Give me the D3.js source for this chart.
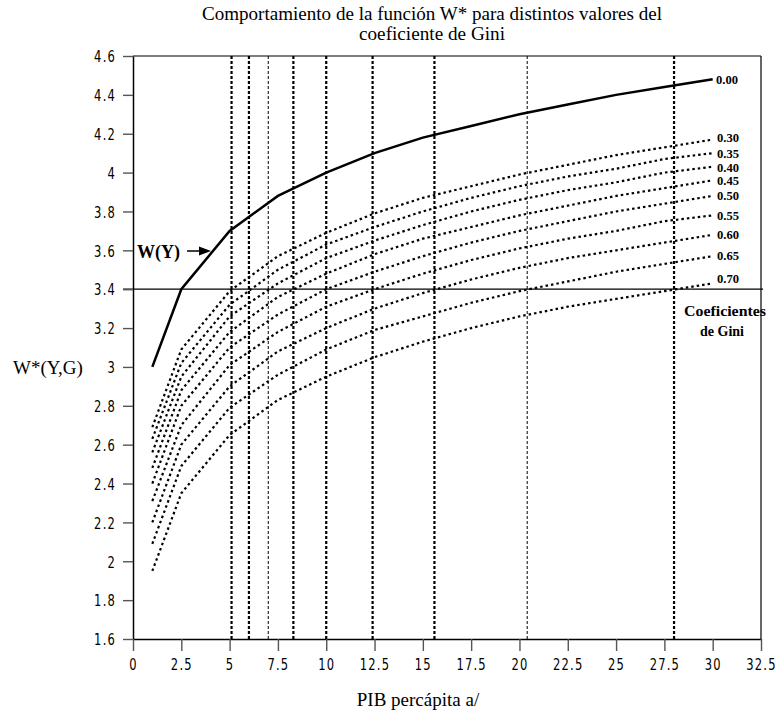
<!DOCTYPE html>
<html>
<head>
<meta charset="utf-8">
<script src="https://cdn.jsdelivr.net/npm/d3@7"></script>
<style>
  body { margin: 0; background: #fff; }
  svg { display: block; }
  .tick text { font-family: "Liberation Sans Narrow", "DejaVu Sans Condensed", sans-serif; font-size: 16px; letter-spacing: 1.5px; fill: #000; }
  .serif { font-family: "Liberation Serif", "Times New Roman", serif; }
</style>
</head>
<body>
<svg id="chart" width="776" height="717"></svg>
<script>
// PIB per capita where the curves were evaluated
var gdp = [1, 2.5, 5, 7.5, 10, 12.5, 15, 17.5, 20, 22.5, 25, 27.5, 30];

// W(Y), Gini = 0
var wY = [3.00, 3.40, 3.70, 3.88, 4.00, 4.10, 4.18, 4.24, 4.30, 4.35, 4.40, 4.44, 4.48];

// W*(Y,G) for each Gini coefficient
var g30 = [2.69, 3.09, 3.39, 3.57, 3.69, 3.79, 3.87, 3.93, 3.99, 4.04, 4.09, 4.13, 4.17];
var g35 = [2.63, 3.02, 3.32, 3.50, 3.63, 3.72, 3.80, 3.87, 3.93, 3.98, 4.02, 4.07, 4.10];
var g40 = [2.56, 2.95, 3.26, 3.43, 3.56, 3.65, 3.73, 3.80, 3.86, 3.91, 3.95, 4.00, 4.03];
var g45 = [2.48, 2.88, 3.18, 3.36, 3.48, 3.58, 3.66, 3.72, 3.78, 3.83, 3.88, 3.92, 3.96];
var g50 = [2.40, 2.80, 3.10, 3.27, 3.40, 3.49, 3.57, 3.64, 3.70, 3.75, 3.80, 3.84, 3.88];
var g55 = [2.31, 2.70, 3.01, 3.18, 3.31, 3.40, 3.48, 3.55, 3.61, 3.66, 3.70, 3.75, 3.78];
var g60 = [2.20, 2.60, 2.90, 3.08, 3.20, 3.30, 3.38, 3.45, 3.51, 3.56, 3.60, 3.64, 3.68];
var g65 = [2.09, 2.49, 2.79, 2.96, 3.09, 3.19, 3.26, 3.33, 3.39, 3.44, 3.49, 3.53, 3.57];
var g70 = [1.95, 2.35, 2.65, 2.83, 2.95, 3.05, 3.13, 3.20, 3.26, 3.31, 3.35, 3.39, 3.43];

var giniSeries = [g30, g35, g40, g45, g50, g55, g60, g65, g70];
var giniLabels = ["0.30", "0.35", "0.40", "0.45", "0.50", "0.55", "0.60", "0.65", "0.70"];

// reference level and the GDP where each Gini curve reaches it
var refLevel = 3.4;
var crossGdp = [5.1, 6.0, 7.0, 8.3, 10.0, 12.4, 15.6, 20.4, 28.0];

var xTicks = [0, 2.5, 5, 7.5, 10, 12.5, 15, 17.5, 20, 22.5, 25, 27.5, 30, 32.5];
var yTicks = [1.6, 1.8, 2, 2.2, 2.4, 2.6, 2.8, 3, 3.2, 3.4, 3.6, 3.8, 4, 4.2, 4.4, 4.6];

var svg = d3.select("#chart");

var x = d3.scaleLinear().domain([0, 32.5]).range([133, 761]);
var y = d3.scaleLinear().domain([1.6, 4.6]).range([639, 56]);

var line = d3.line()
  .x(function(d) { return x(d[0]); })
  .y(function(d) { return y(d[1]); });

// title
var title = svg.append("text").attr("class", "serif")
  .attr("text-anchor", "middle").style("font-size", "19px");
title.append("tspan").attr("x", 432).attr("y", 20)
  .attr("textLength", 460).attr("lengthAdjust", "spacingAndGlyphs")
  .text("Comportamiento de la función W* para distintos valores del");
title.append("tspan").attr("x", 432).attr("y", 40)
  .attr("textLength", 146).attr("lengthAdjust", "spacingAndGlyphs")
  .text("coeficiente de Gini");

// frame top / right
svg.append("line").attr("x1", x(0)).attr("x2", x(32.5)).attr("y1", y(4.6)).attr("y2", y(4.6))
  .attr("stroke", "#000").attr("stroke-width", 1.2);
svg.append("line").attr("x1", x(32.5)).attr("x2", x(32.5)).attr("y1", y(4.6)).attr("y2", y(1.6))
  .attr("stroke", "#000").attr("stroke-width", 1.2);

// vertical markers where each curve reaches the reference level
svg.selectAll(".vmark")
  .data(crossGdp)
  .enter().append("line")
  .attr("class", "vmark")
  .attr("x1", function(d) { return x(d); })
  .attr("x2", function(d) { return x(d); })
  .attr("y1", y(4.6))
  .attr("y2", y(1.6))
  .attr("stroke", "#000")
  .attr("stroke-width", function(d, i) { return (i == 2 || i == 7) ? 1 : 2.2; })
  .attr("stroke-dasharray", "3,2");

// horizontal reference line
svg.append("line")
  .attr("x1", x(0) - 10).attr("x2", x(32.5) + 2)
  .attr("y1", y(refLevel)).attr("y2", y(refLevel))
  .attr("stroke", "#000").attr("stroke-width", 1.2);

// axes
var sx = 0.8; // horizontal squeeze of the tick labels
var yAxis = d3.axisLeft(y).tickValues(yTicks).tickSize(10).tickPadding(7).tickSizeOuter(0)
  .tickFormat(function(d) { return String(d); });
var gy = svg.append("g").attr("transform", "translate(" + x(0) + ",0)").call(yAxis);

var xAxis = d3.axisBottom(x).tickValues(xTicks).tickSize(12).tickPadding(8).tickSizeOuter(0)
  .tickFormat(function(d) { return String(d); });
var gx = svg.append("g").attr("transform", "translate(0," + y(1.6) + ")").call(xAxis);

[gx, gy].forEach(function(g) {
  g.select(".domain").attr("stroke", "#000").attr("stroke-width", 1.5);
  g.selectAll(".tick line").attr("stroke", "#555").attr("stroke-width", 1.4);
});
gy.selectAll(".tick text")
  .attr("x", -17 / sx)
  .attr("dy", "0.36em")
  .attr("transform", "scale(" + sx + ",1)");
gx.selectAll(".tick text")
  .attr("transform", "scale(" + sx + ",1)");

// small vertical nudges so the crowded end labels do not touch
var labelNudge = [-1.5, 1, 1, 0, 0, 0, 0, 0, -5];

// Gini curves
giniSeries.forEach(function(s, i) {
  var pts = gdp.map(function(g, j) { return [g, s[j]]; });
  svg.append("path")
    .datum(pts)
    .attr("d", line)
    .attr("fill", "none")
    .attr("stroke", "#000")
    .attr("stroke-width", 2.2)
    .attr("stroke-dasharray", "2.5,3");

  svg.append("text").attr("class", "serif")
    .attr("x", 717)
    .attr("y", y(s[s.length - 1]) + labelNudge[i])
    .attr("dy", "0.35em")
    .attr("textLength", 22).attr("lengthAdjust", "spacingAndGlyphs")
    .style("font-size", "12px").style("font-weight", "bold")
    .text(giniLabels[i]);
});

// W(Y) solid curve
svg.append("path")
  .datum(gdp.map(function(g, j) { return [g, wY[j]]; }))
  .attr("d", line)
  .attr("fill", "none")
  .attr("stroke", "#000")
  .attr("stroke-width", 2.5);

svg.append("text").attr("class", "serif")
  .attr("x", 716).attr("y", y(wY[wY.length - 1])).attr("dy", "0.35em")
  .attr("textLength", 22).attr("lengthAdjust", "spacingAndGlyphs")
  .style("font-size", "13px").style("font-weight", "bold")
  .text("0.00");

// W(Y) annotation with arrow
svg.append("text").attr("class", "serif")
  .attr("x", 137).attr("y", 258)
  .style("font-size", "18px").style("font-weight", "bold")
  .text("W(Y)");
svg.append("line").attr("x1", 187).attr("x2", 202).attr("y1", 251).attr("y2", 251)
  .attr("stroke", "#000").attr("stroke-width", 1.5);
svg.append("path").attr("d", "M199,246.5 L211,251 L199,255.5 Z").attr("fill", "#000");

// legend title
svg.append("text").attr("class", "serif")
  .attr("x", 725).attr("y", 316).attr("text-anchor", "middle")
  .attr("textLength", 82).attr("lengthAdjust", "spacingAndGlyphs")
  .style("font-size", "14px").style("font-weight", "bold")
  .text("Coeficientes");
svg.append("text").attr("class", "serif")
  .attr("x", 722).attr("y", 336).attr("text-anchor", "middle")
  .style("font-size", "14px").style("font-weight", "bold")
  .text("de Gini");

// axis titles
svg.append("text").attr("class", "serif")
  .attr("x", 13).attr("y", 374)
  .style("font-size", "19px")
  .text("W*(Y,G)");
svg.append("text").attr("class", "serif")
  .attr("x", 418).attr("y", 706).attr("text-anchor", "middle")
  .style("font-size", "19px")
  .text("PIB percápita a/");
</script>
</body>
</html>
